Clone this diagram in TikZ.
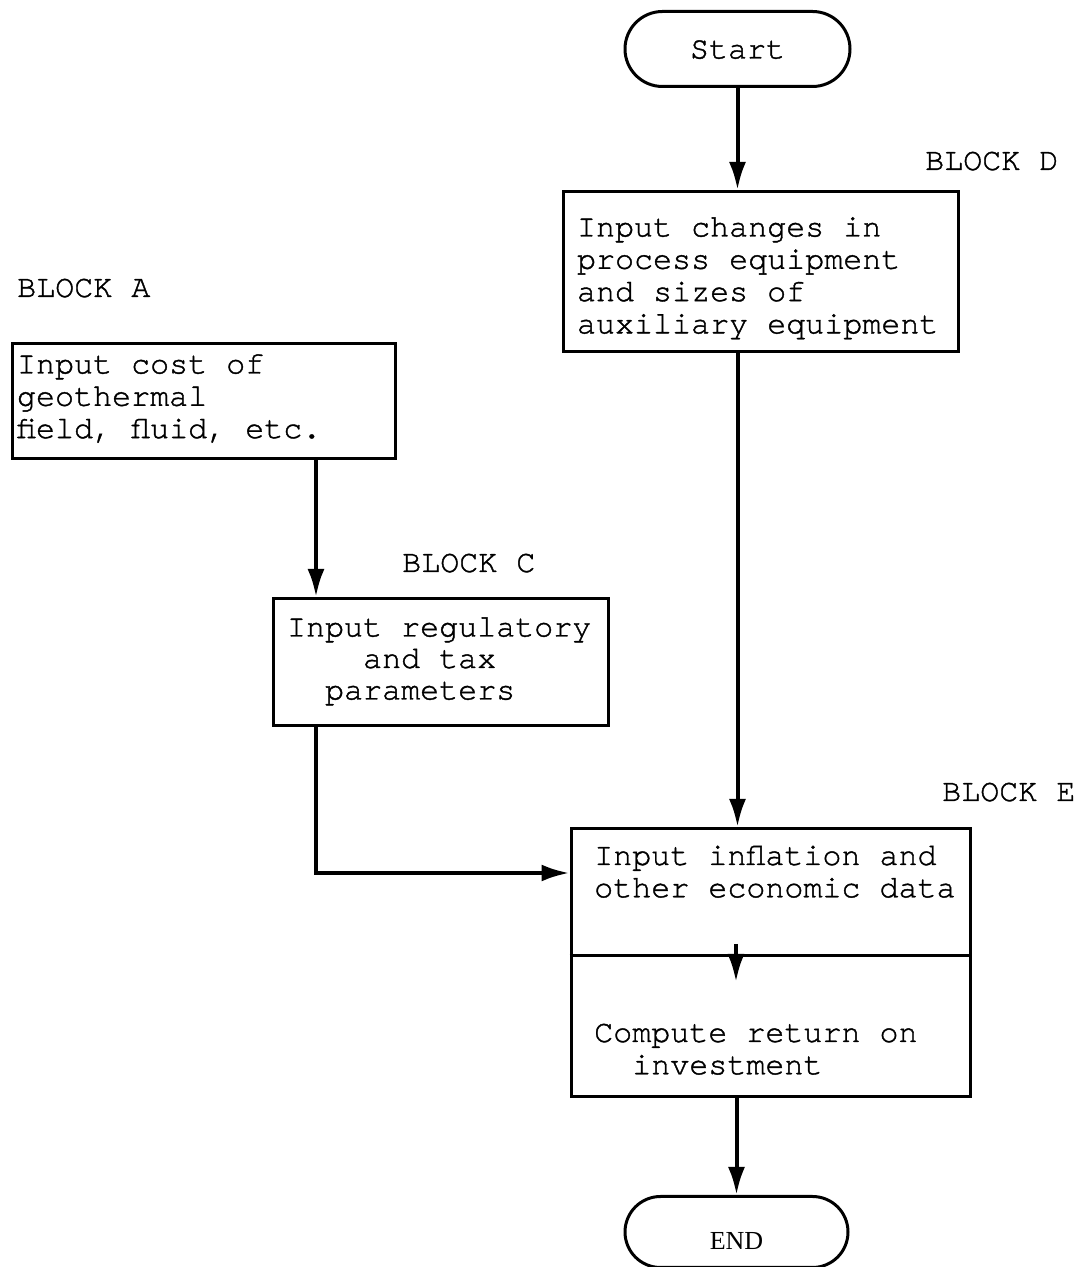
\documentclass[tikz,border=0pt]{standalone}
\usepackage{fontspec}
\setmainfont{Liberation Serif}
\setmonofont{TeX Gyre Cursor}[FakeBold=1.2]
\usetikzlibrary{arrows.meta,shapes.misc}

\begin{document}
\begin{tikzpicture}[x=1pt, y=1pt, >={Latex[length=28pt,width=17pt]},
        every node/.style={font=\ttfamily\fontsize{31.7}{32.3}\selectfont, inner sep=0pt,
            execute at begin node={\spaceskip=0pt\xspaceskip=0pt}},
        blocco/.style={draw, rectangle, line width=3pt, align=left, anchor=north},
        terminale/.style={draw, rounded rectangle, line width=3pt, anchor=north},
        etichetta/.style={anchor=base west},
        freccia/.style={->, line width=4pt}]

        \useasboundingbox (0,0) rectangle (1080,1267);

        % Inizio e fine
        \node[terminale, minimum width=225pt, text height=47pt, text depth=28pt] (start) at (737.5,1257) {Start};
        \node[terminale, minimum width=223pt, text height=53pt, text depth=18pt,
              font=\rmfamily\fontsize{26}{28}\selectfont] (finish) at (736.5,72) {END};

        % Blocchi di input
        \node[blocco, text width=367pt, inner xsep=14pt, text height=45pt, text depth=115pt] (blockD) at (760.5,1077)
            {Input changes in\\process equipment\\and sizes of\\auxiliary equipment};
        \node[blocco, text width=373pt, inner xsep=5pt, text height=30pt, text depth=85pt] (blockA) at (203.5,925)
            {Input cost of\\geothermal\\field, fluid, etc.};
        \node[blocco, text width=307pt, inner xsep=14pt, text height=38pt, text depth=89pt,
              font=\ttfamily\fontsize{31.7}{31.5}\selectfont] (blockC) at (440.5,670)
            {Input regulatory\\\phantom{Inpu}and tax\\\phantom{In}parameters};

        % Blocco E, diviso in due
        \node[blocco, minimum width=399pt, minimum height=268pt] (blockE) at (770.5,440) {};
        \coordinate (split) at (0,311);
        \draw[line width=3pt] (blockE.west |- split) -- (blockE.east |- split);
        \node[etichetta, text width=370pt, align=left] (eIn) at (594,402) {Input inflation and\\other economic data};
        \node[etichetta, text width=370pt, align=left] (eOut) at (594,225) {Compute return on\\\phantom{Co}investment};

        % Etichette dei blocchi
        \node[etichetta] (labA) at (17,970) {BLOCK A};
        \node[etichetta] (labC) at (402,695) {BLOCK C};
        \node[etichetta] (labD) at (925,1097) {BLOCK D};
        \node[etichetta] (labE) at (942,466) {BLOCK E};

        % Punti di passaggio
        \coordinate (colA) at (316,0);
        \coordinate (joinE) at (0,394);
        \coordinate (innerTop) at (736,323);
        \coordinate (innerBot) at (736,285);

        % Collegamenti
        \draw[freccia] (start.south) -- (start.south |- blockD.north);
        \draw[freccia] (start.south |- blockD.south) -- (start.south |- blockE.north);
        \draw[freccia] (colA |- blockA.south) -- (colA |- blockC.north);
        \draw[freccia] (colA |- blockC.south) |- (blockE.west |- joinE);
        \draw[freccia] (innerTop) -- (innerBot);
        \draw[freccia] (finish.north |- blockE.south) -- (finish.north);

\end{tikzpicture}
\end{document}
